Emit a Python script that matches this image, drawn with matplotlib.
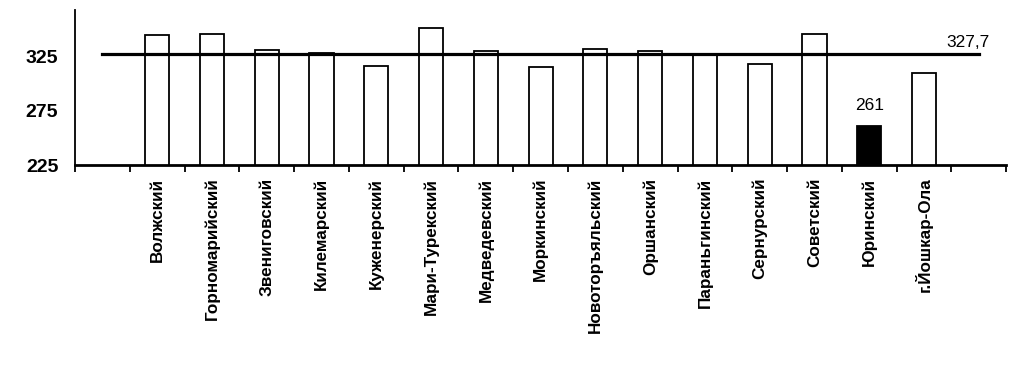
import numpy as np
import matplotlib.pyplot as plt

districts = ["Волжский", "Горномарийский", "Звениговский", "Килемарский",
             "Куженерский", "Мари-Турекский", "Медведевский", "Моркинский",
             "Новоторъяльский", "Оршанский", "Параньгинский", "Сернурский",
             "Советский", "Юринский", "г.Йошкар-Ола"]
values = [345, 346, 331, 328, 316, 351, 330, 315, 332, 330, 327, 318, 346, 261, 310]
average = 327.7
highlight = "Юринский"

plt.rcParams['font.family'] = ['Liberation Sans', 'DejaVu Sans']

fig = plt.figure(figsize=(10.32, 3.66), dpi=100)
ax = fig.add_axes([0.0727, 0.549, 0.9023, 0.424])

x = np.arange(1, len(districts) + 1)
colors = ['black' if d == highlight else 'white' for d in districts]
ax.bar(x, values, width=0.44, color=colors, edgecolor='black', linewidth=1.3, zorder=2)

# average line across all slots (including the empty ones at both ends)
ax.plot([0, len(districts) + 1], [average, average], color='black', lw=2.3, zorder=3)
ax.text(len(districts) + 1.2, average + 3, f"{average}".replace('.', ','),
        ha='right', va='bottom', fontsize=12.5)

i = districts.index(highlight)
ax.text(x[i], values[i] + 12, f"{values[i]}", ha='center', va='bottom', fontsize=12.5)

ax.set_xlim(-0.5, len(districts) + 1.5)
ax.set_ylim(225, 368)
ax.set_yticks([225, 275, 325])
ax.set_yticklabels(["225", "275", "325"], fontsize=14, fontweight='bold')

# category labels centred in slots, tick marks on slot borders
ax.set_xticks(x)
ax.set_xticklabels(districts, rotation=90, fontsize=12.3, fontweight='bold', va='top')
ax.tick_params(axis='x', length=0, pad=9)
ax.set_xticks(np.arange(-0.5, len(districts) + 2), minor=True)
ax.tick_params(axis='x', which='minor', length=5, width=1.3, direction='out')
ax.tick_params(axis='y', length=0, pad=12)

for s in ['top', 'right']:
    ax.spines[s].set_visible(False)
ax.spines['left'].set_linewidth(1.3)
ax.spines['bottom'].set_linewidth(2)

fig.savefig("out.png", dpi=100)
